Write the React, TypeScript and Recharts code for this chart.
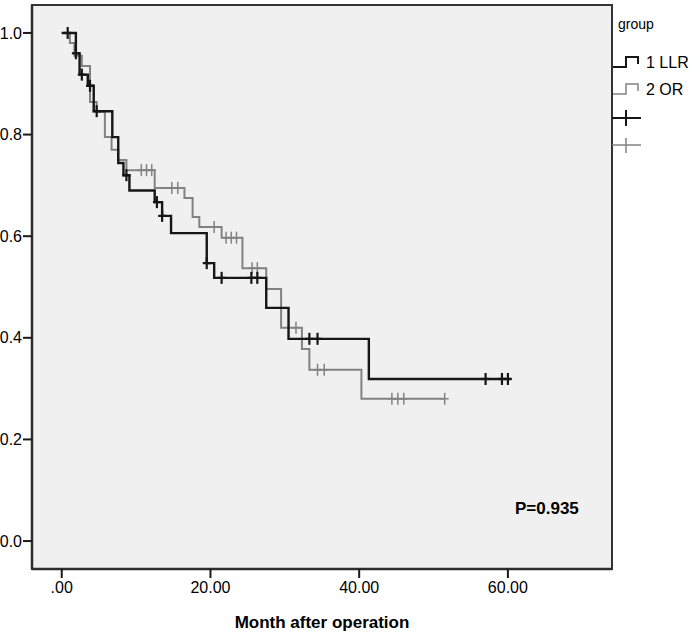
import React from 'react';
import { ComposedChart, Line, Scatter, XAxis, YAxis, ReferenceArea } from 'recharts';

// Kaplan-Meier steps (months, survival after the drop)
const LLR_TIMES = [0, 1.9, 2.4, 3.5, 4.3, 6.8, 7.6, 8.3, 9.1, 12.5, 13.5, 14.7, 19.5, 20.5, 27.5, 30.5, 41.3, 60.4];
const LLR_SURV = [1.0, 0.96, 0.918, 0.896, 0.846, 0.795, 0.744, 0.72, 0.69, 0.667, 0.64, 0.606, 0.547, 0.518, 0.459, 0.398, 0.319, 0.319];
const LLR_CENSOR = [0.8, 1.9, 2.7, 3.8, 4.7, 8.7, 12.8, 13.5, 19.5, 21.5, 25.5, 26.3, 33.3, 34.4, 57, 59.2, 60];

const OR_TIMES = [0, 1.1, 1.7, 2.7, 3.8, 4.7, 5.8, 6.7, 7.6, 8.7, 12.5, 16.5, 17.6, 18.5, 21.5, 24.3, 27.5, 29.5, 32.3, 33.3, 40.3, 51.5];
const OR_SURV = [1.0, 0.98, 0.955, 0.935, 0.864, 0.845, 0.795, 0.77, 0.75, 0.73, 0.695, 0.675, 0.638, 0.618, 0.597, 0.537, 0.496, 0.42, 0.378, 0.337, 0.28, 0.28];
const OR_CENSOR = [10.7, 11.4, 12.1, 14.8, 15.6, 20.5, 22.1, 22.8, 23.5, 25.6, 26.3, 31.5, 34.4, 35.3, 44.4, 45.2, 46, 51.5];

const X_TICKS = [0, 20, 40, 60];
const Y_TICKS = [0, 0.2, 0.4, 0.6, 0.8, 1.0];

const X_DOMAIN: [number, number] = [-4, 74];
const Y_DOMAIN: [number, number] = [-0.055, 1.055];

const BLACK = '#161616';
const GRAY = '#828282';
const FONT = '"Liberation Sans", Arial, sans-serif';

const steps = (times: number[], surv: number[]) => times.map((t, i) => ({ t, s: surv[i] }));

// survival value of the step curve at a censor time
const censorPoints = (censor: number[], times: number[], surv: number[]) =>
  censor.map(t => {
    let idx = 0;
    times.forEach((tt, i) => {
      if (tt <= t) idx = i;
    });
    return { t, s: surv[idx] };
  });

const llrData = steps(LLR_TIMES, LLR_SURV);
const orData = steps(OR_TIMES, OR_SURV);
const llrCensor = censorPoints(LLR_CENSOR, LLR_TIMES, LLR_SURV);
const orCensor = censorPoints(OR_CENSOR, OR_TIMES, OR_SURV);

const plus = (color: string, w: number) => (props: any) => {
  const { cx, cy } = props;
  return (
    <g>
      <line x1={cx} x2={cx} y1={cy - 6} y2={cy + 6} stroke={color} strokeWidth={w} />
      <line x1={cx - 4} x2={cx + 4} y1={cy} y2={cy} stroke={color} strokeWidth={w} />
    </g>
  );
};

const App: React.FC = () => {
  return (
    <div style={{ position: 'absolute', left: 0, top: 0, width: 700, height: 634, background: '#fff', fontFamily: FONT }}>
      <ComposedChart width={700} height={634} margin={{ top: 5, right: 88, bottom: 0, left: 0 }}>
        <XAxis
          dataKey="t"
          type="number"
          domain={X_DOMAIN}
          allowDataOverflow
          ticks={X_TICKS}
          tickFormatter={(v: number) => (v === 0 ? '.00' : v.toFixed(2))}
          height={65}
          tickSize={9}
          tickMargin={4}
          axisLine={{ stroke: '#2e2e2e', strokeWidth: 2.5 }}
          tickLine={{ stroke: '#1a1a1a', strokeWidth: 2 }}
          tick={{ fill: '#000', fontSize: 16, fontFamily: FONT }}
          label={{
            value: 'Month after operation',
            position: 'insideBottom',
            offset: 6,
            style: { fill: '#000', fontSize: 17, fontWeight: 'bold', fontFamily: FONT },
          }}
        />
        <YAxis
          dataKey="s"
          type="number"
          domain={Y_DOMAIN}
          allowDataOverflow
          ticks={Y_TICKS}
          tickFormatter={(v: number) => v.toFixed(1)}
          width={32}
          tickSize={9}
          tickMargin={1}
          axisLine={{ stroke: '#2e2e2e', strokeWidth: 2.5 }}
          tickLine={{ stroke: '#1a1a1a', strokeWidth: 2 }}
          tick={{ fill: '#000', fontSize: 16, fontFamily: FONT }}
        />
        <ReferenceArea
          x1={X_DOMAIN[0]}
          x2={X_DOMAIN[1]}
          y1={Y_DOMAIN[0]}
          y2={Y_DOMAIN[1]}
          fill="#f0f0f0"
          fillOpacity={1}
          stroke="#333"
          strokeWidth={2}
        />
        <Line data={orData} dataKey="s" type="stepAfter" stroke={GRAY} strokeWidth={2} dot={false} activeDot={false} isAnimationActive={false} />
        <Line data={llrData} dataKey="s" type="stepAfter" stroke={BLACK} strokeWidth={2.4} dot={false} activeDot={false} isAnimationActive={false} />
        <Scatter data={orCensor} dataKey="s" shape={plus(GRAY, 1.5)} isAnimationActive={false} />
        <Scatter data={llrCensor} dataKey="s" shape={plus(BLACK, 2.2)} isAnimationActive={false} />
      </ComposedChart>

      <svg width={700} height={634} style={{ position: 'absolute', left: 0, top: 0, pointerEvents: 'none' }}>
        <text x={515} y={514} fontSize={17} fontWeight="bold" fill="#000" fontFamily={FONT}>P=0.935</text>
        <text x={618} y={29} fontSize={14} fill="#000" fontFamily={FONT}>group</text>
        <path d="M613,67 H626 V57 H638 V64" fill="none" stroke={BLACK} strokeWidth={2} />
        <text x={646} y={68} fontSize={16} fill="#000" fontFamily={FONT}>1 LLR</text>
        <path d="M613,94 H626 V84 H638 V91" fill="none" stroke={GRAY} strokeWidth={1.5} />
        <text x={646} y={95} fontSize={16} fill="#000" fontFamily={FONT}>2 OR</text>
        <line x1={612} x2={641} y1={118} y2={118} stroke={BLACK} strokeWidth={2} />
        <line x1={626} x2={626} y1={110} y2={126} stroke={BLACK} strokeWidth={2} />
        <line x1={612} x2={641} y1={145} y2={145} stroke={GRAY} strokeWidth={1.5} />
        <line x1={626} x2={626} y1={138} y2={153} stroke={GRAY} strokeWidth={1.5} />
      </svg>
    </div>
  );
};

export default App;
